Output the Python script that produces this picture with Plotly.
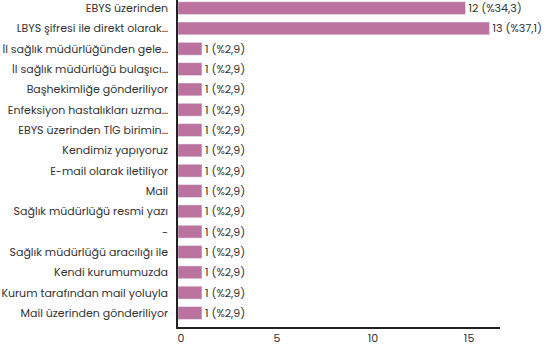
import plotly.graph_objects as go

categories = [
    "EBYS üzerinden",
    "LBYS şifresi ile direkt olarak…",
    "İl sağlık müdürlüğünden gele…",
    "İl sağlık müdürlüğü bulaşıcı…",
    "Başhekimliğe gönderiliyor",
    "Enfeksiyon hastalıkları uzma…",
    "EBYS üzerinden TİG birimin…",
    "Kendimiz yapıyoruz",
    "E-mail olarak iletiliyor",
    "Mail",
    "Sağlık müdürlüğü resmi yazı",
    "-",
    "Sağlık müdürlüğü aracılığı ile",
    "Kendi kurumumuzda",
    "Kurum tarafından mail yoluyla",
    "Mail üzerinden gönderiliyor",
]
values = [12, 13, 1, 1, 1, 1, 1, 1, 1, 1, 1, 1, 1, 1, 1, 1]
percents = ["34,3", "37,1"] + ["2,9"] * 14
xticks = [0, 5, 10, 15]

labels = [f"{v} (%{p})" for v, p in zip(values, percents)]

font_family = "Poppins, Lato, Open Sans, sans-serif"

fig = go.Figure()
fig.add_trace(go.Bar(
    y=categories, x=values, orientation="h",
    marker=dict(color="#bc729e"),
    text=labels, textposition="outside",
    constraintext="none",
    textfont=dict(size=11, color="#333333", family=font_family),
    cliponaxis=False,
))
# invisible helper trace so the tick-label axis is rendered
fig.add_trace(go.Scatter(
    x=xticks, y=[categories[-1]] * len(xticks), xaxis="x2", yaxis="y",
    mode="markers", marker=dict(opacity=0), hoverinfo="skip", showlegend=False,
))

fig.update_layout(
    width=551, height=347,
    margin=dict(l=178, r=51, t=0, b=20),
    paper_bgcolor="white", plot_bgcolor="white",
    bargap=0.37,
    showlegend=False,
    font=dict(family=font_family, size=11, color="#333333"),
    xaxis=dict(range=[0, 13.44], showgrid=False, zeroline=False,
               showline=True, linecolor="#222222", linewidth=1.5,
               ticks="", showticklabels=False),
    xaxis2=dict(range=[-0.156, 16.61], tickvals=xticks, overlaying="x",
                side="bottom", anchor="y", showgrid=False, zeroline=False,
                showline=True, linecolor="#222222", linewidth=1.5, ticks="",
                tickfont=dict(size=11, color="#333333")),
    yaxis=dict(range=[15.69, -0.4], showgrid=False, zeroline=False,
               showline=True, linecolor="#222222", linewidth=1.5,
               ticks="outside", ticklen=6, tickcolor="rgba(0,0,0,0)",
               tickfont=dict(size=11, color="#333333")),
)

fig.write_html("out.html")
